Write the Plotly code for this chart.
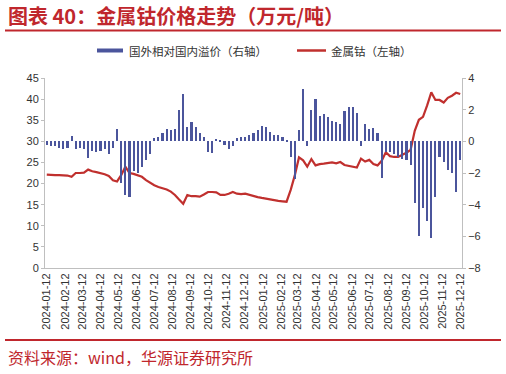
import datetime as dt
import plotly.graph_objects as go

# ---- data (weekly, Fridays from 2024-01-12) ----
start = dt.date(2024, 1, 12)
premium = [-0.2, -0.3, -0.3, -0.4, -0.5, -0.4, 0.35, -0.5, -0.4, -0.5,
           -1.05, -0.6, -0.7, -0.6, -0.5, -0.8, -0.4, 0.75, -2.6, -3.4,
           -3.5, -1.9, -2.0, -1.6, -1.2, -0.8, 0.2, 0.3, 0.5, 0.8,
           0.7, 0.8, 2.0, 3.0, 0.9, 1.2, 0.9, 0.5, 0.3, -0.7,
           -0.75, 0.15, 0.1, -0.2, -0.5, -0.3, 0.2, 0.3, 0.3, 0.4,
           0.5, 0.7, 1.0, 0.9, 0.6, 0.4, 0.4, 0.3, 0.1, -1.0,
           -2.4, 0.7, 3.3, -0.3, 2.0, 2.7, 1.6, 1.75, 1.55, 1.3,
           1.2, 1.1, 1.9, 2.2, 2.2, 1.8, -0.3, 1.1, 0.8, 0.85,
           0.5, -2.3, -0.7, -0.7, -0.8, -1.0, -1.1, -1.2, -1.5, -3.9,
           -6.0, -4.2, -5.0, -6.1, -3.5, -1.0, -1.3, -1.8, -2.0, -3.2,
           -1.2]
cobalt = [22.1, 22.0, 22.0, 22.0, 22.0, 21.9, 21.6, 22.5, 22.5, 22.6,
          23.3, 22.9, 22.7, 22.5, 22.2, 21.8, 20.8, 20.5, 22.0, 24.0,
          22.5, 22.3, 22.0, 21.6, 20.8, 20.1, 19.6, 19.2, 18.9, 18.6,
          18.1, 17.3, 16.2, 15.2, 17.3, 17.0, 17.0, 16.9, 17.4, 18.0,
          18.0, 17.9, 17.3, 17.3, 17.6, 18.0, 17.6, 17.5, 17.6, 17.3,
          17.0, 16.8, 16.6, 16.4, 16.3, 16.1, 15.9, 15.8, 15.7, 18.5,
          22.0, 26.2, 25.5, 24.0, 25.8, 24.3, 24.6, 24.7, 24.9, 25.0,
          24.8, 25.1, 24.4, 24.2, 24.0, 23.8, 25.9, 25.2, 25.6, 24.6,
          24.3, 25.4, 27.4, 26.5, 26.3, 26.3, 26.8, 27.3, 28.0, 32.5,
          35.1, 35.8, 38.5, 41.6, 39.8, 39.8, 39.2, 40.3, 40.8, 41.5,
          41.2]
dates = [start + dt.timedelta(days=7 * i) for i in range(len(premium))]
tick_dates = [dt.date(2024 + (m // 12), m % 12 + 1, 12) for m in range(24)]
tick_text = [d.strftime("%Y-%m-%d") for d in tick_dates]

bar_name = "国外相对国内溢价（右轴）"
line_name = "金属钴（左轴）"
title_text = "图表 40：金属钴价格走势（万元/吨）"
source_text = "资料来源：wind，华源证券研究所"

BAR_C = "#4B559C"
LINE_C = "#C0302E"
RED = "#C0272D"
TXT = "#333333"
W, H = 506, 374
L, R, T, B = 45, 462, 78, 268


def px(x):
    return (x - L) / (R - L)


def py(y):
    return (B - y) / (B - T)


fig = go.Figure()
fig.add_trace(go.Bar(x=dates, y=premium, yaxis="y2", marker_color=BAR_C,
                     marker_line_width=0, width=3.6 * 86400000,
                     name=bar_name, showlegend=False))
fig.add_trace(go.Scatter(x=dates, y=cobalt, mode="lines", yaxis="y",
                         line=dict(color=LINE_C, width=2.2),
                         name=line_name, showlegend=False))

axis_font = dict(family="Liberation Sans, Arial", size=11, color=TXT)
fig.update_layout(
    width=W, height=H,
    margin=dict(l=L, r=W - R, t=T, b=H - B),
    plot_bgcolor="white", paper_bgcolor="white",
    bargap=0,
    xaxis=dict(type="date", range=["2024-01-09", "2025-12-15"],
               tickvals=tick_dates, ticktext=tick_text, tickangle=-90,
               tickfont=axis_font, showgrid=False, zeroline=False,
               showline=True, linecolor="#BFBFBF", linewidth=1,
               ticks="", ticklen=0),
    yaxis=dict(range=[0, 45], dtick=5, tickfont=axis_font, showgrid=False,
               zeroline=False, showline=True, linecolor="#BFBFBF",
               ticks="outside", ticklen=3, tickcolor="#BFBFBF"),
    yaxis2=dict(range=[-8, 4], dtick=2, overlaying="y", side="right",
                tickfont=axis_font, showgrid=False, zeroline=False,
                showline=True, linecolor="#BFBFBF",
                ticks="outside", ticklen=3, tickcolor="#BFBFBF"),
    showlegend=False,
)

shapes = [
    # title divider and footer divider
    dict(type="line", xref="paper", yref="paper", x0=px(5), x1=px(501),
         y0=py(30.5), y1=py(30.5), line=dict(color=RED, width=2)),
    dict(type="line", xref="paper", yref="paper", x0=px(5), x1=px(501),
         y0=py(340), y1=py(340), line=dict(color=RED, width=2)),
    # legend symbols
    dict(type="rect", xref="paper", yref="paper", x0=px(97), x1=px(123),
         y0=py(52.5), y1=py(48.5), fillcolor=BAR_C, line=dict(width=0)),
    dict(type="line", xref="paper", yref="paper", x0=px(297), x1=px(326),
         y0=py(50.5), y1=py(50.5), line=dict(color=LINE_C, width=2.5)),
]
annotations = [
    dict(text="<b>" + title_text + "</b>", xref="paper", yref="paper",
         x=px(6), y=py(15.5), xanchor="left", yanchor="middle",
         showarrow=False,
         font=dict(family="Noto Sans CJK SC", size=20, color=RED)),
    dict(text=source_text, xref="paper", yref="paper", x=px(6), y=py(357),
         xanchor="left", yanchor="middle", showarrow=False,
         font=dict(family="Noto Sans CJK SC", size=16, color=RED)),
    dict(text=bar_name, xref="paper", yref="paper", x=px(127), y=py(50.5),
         xanchor="left", yanchor="middle", showarrow=False,
         font=dict(family="Noto Sans CJK SC", size=11.5, color=TXT)),
    dict(text=line_name, xref="paper", yref="paper", x=px(329), y=py(50.5),
         xanchor="left", yanchor="middle", showarrow=False,
         font=dict(family="Noto Sans CJK SC", size=11.5, color=TXT)),
]
fig.update_layout(shapes=shapes, annotations=annotations)

fig.write_html("out.html")
